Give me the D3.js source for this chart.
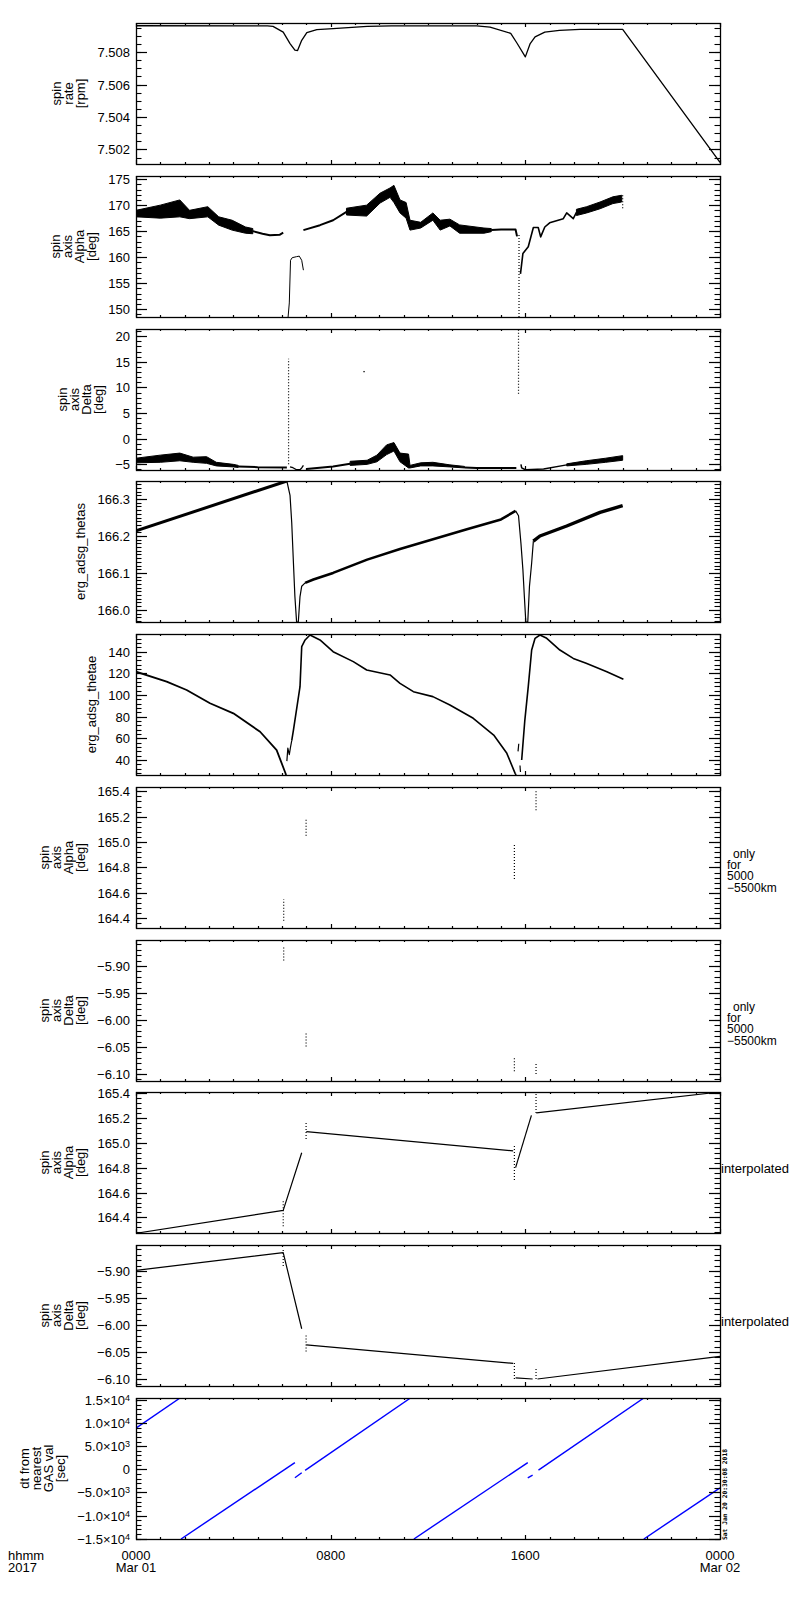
<!DOCTYPE html>
<html>
<head>
<meta charset="utf-8">
<script src="https://cdn.jsdelivr.net/npm/d3@7"></script>
<style>
body { margin: 0; background: #fff; }
text { font-family: "Liberation Sans", Arial, sans-serif; fill: #000; }
</style>
</head>
<body>
<div id="canvas"></div>
<script>
// time axis (hours of 2017-03-01)
var timeMajor = [0, 8, 16, 24];
var timeLabels = [["0000", "Mar 01"], ["0800"], ["1600"], ["0000", "Mar 02"]];

// spin rate [rpm]
var spinRate = [[0,7.50963],[5.4,7.50962],[5.63,7.50959],[6.05,7.50924],[6.33,7.50853],[6.53,7.50812],[6.64,7.5081],[6.81,7.50873],[7.02,7.5092],[7.43,7.50939],[8.1,7.50945],[9.5,7.50959],[10.5,7.50962],[14.0,7.50962],[14.55,7.50955],[15.4,7.50916],[15.66,7.50855],[16.0,7.50771],[16.2,7.50853],[16.4,7.50894],[16.8,7.50924],[17.4,7.50935],[18.25,7.50941],[20.0,7.50941],[24,7.5012]];

// spin axis alpha [deg]  (bands: hour, low, high)
var alphaBand1 = [[0,167.75,169.0],[1.0,167.5,170.0],[1.8,167.75,171.0],[2.2,167.4,169.0],[2.95,167.75,169.7],[3.4,166.15,167.75],[3.95,165.2,167.1],[4.5,164.6,165.8],[4.8,164.5,165.5]];
var alphaLine1 = [[4.8,165.0],[5.2,164.5],[5.5,164.2],[5.9,164.3],[6.05,164.7]];
var alphaBump = [[6.25,148.5],[6.3,151.2],[6.35,159.4],[6.42,159.9],[6.6,160.1],[6.71,160.2],[6.81,159.4],[6.88,157.5]];
var alphaLine2 = [[6.88,165.2],[7.56,166.15],[8.1,167.1],[8.65,168.7]];
var alphaBand2 = [[8.65,168.1,169.4],[9.48,167.9,170.0],[10.03,170.4,172.3],[10.44,171.5,173.3],[10.6,170.5,173.8],[10.85,168.5,171.0],[11.1,167.5,170.5],[11.26,165.2,167.1],[11.7,165.6,166.7],[12.2,167.1,168.5],[12.5,165.2,167.1],[12.9,166.0,167.3],[13.3,164.6,166.2],[14.3,164.6,165.6],[14.6,164.9,165.5]];
var alphaLine3 = [[14.6,165.2],[15.0,165.3],[15.6,165.3],[15.66,164.0]];
var alphaLine4 = [[15.8,156.8],[15.9,160.7],[16.12,162.0],[16.33,165.7],[16.53,165.7],[16.63,163.9],[16.8,165.8],[17.0,166.6],[17.56,167.4],[17.7,168.5],[17.97,167.4],[18.1,168.6]];
var alphaBand3 = [[18.1,168.0,169.2],[18.52,168.5,169.7],[19.07,169.3,170.6],[19.6,170.3,171.6],[19.96,170.6,171.9]];
var alphaDots = [[15.74,148.5,164.5],[20.0,169.4,171.9]];

// spin axis delta [deg]
var deltaBand1 = [[0,-4.7,-3.8],[1.0,-4.6,-3.2],[1.8,-4.3,-2.8],[2.35,-4.6,-3.6],[2.9,-4.8,-3.5],[3.3,-5.3,-4.6],[4.0,-5.5,-5.0],[4.2,-5.6,-5.2]];
var deltaLine1 = [[4.2,-5.4],[5.0,-5.55],[6.2,-5.6]];
var deltaLine2 = [[6.33,-5.5],[6.45,-5.66],[6.6,-6.05],[6.74,-6.05],[6.81,-5.7],[6.88,-5.2]];
var deltaLine3 = [[7.0,-5.9],[8.1,-5.4],[8.8,-4.9]];
var deltaBand2 = [[8.8,-5.2,-4.4],[9.5,-5.0,-4.2],[9.9,-4.5,-3.2],[10.3,-3.1,-1.2],[10.6,-2.4,-0.75],[10.85,-4.5,-2.8],[11.2,-5.7,-3.0],[11.26,-5.7,-5.2],[11.7,-5.3,-4.7],[12.2,-5.3,-4.6],[12.9,-5.5,-5.1],[13.5,-5.7,-5.4]];
var deltaLine4 = [[13.5,-5.6],[14.0,-5.7],[15.63,-5.7]];
var deltaLine5 = [[15.82,-5.0],[15.85,-5.7],[16.0,-6.05],[16.26,-6.0],[16.75,-5.9],[17.7,-5.1]];
var deltaBand3 = [[17.7,-5.3,-4.9],[18.5,-5.0,-4.3],[19.3,-4.6,-3.8],[20.0,-4.2,-3.3]];
var deltaDots = [[6.27,-5.0,15.6],[15.72,8.75,21.4]];
var deltaSingle = [[9.37,13.1]];

// erg_adsg_thetas
var thetas1 = [[0,166.214],[6.2,166.349]];
var thetasDip1 = [[6.2,166.349],[6.33,166.31],[6.4,166.236],[6.47,166.127],[6.53,166.036],[6.6,165.967],[6.67,165.967],[6.74,166.036],[6.81,166.064],[6.95,166.073]];
var thetas2 = [[6.95,166.073],[7.29,166.082],[8.1,166.1],[9.5,166.136],[10.85,166.165],[13.6,166.218],[15.0,166.245],[15.6,166.268]];
var thetasDip2 = [[15.6,166.268],[15.72,166.255],[15.82,166.18],[15.9,166.109],[15.96,166.036],[16.02,165.967],[16.1,165.967],[16.17,166.064],[16.26,166.127],[16.33,166.186]];
var thetas3 = [[16.33,166.186],[16.6,166.2],[17.7,166.227],[19.07,166.264],[20.0,166.282]];

// erg_adsg_thetae
var thetae1 = [[0,121.5],[1.26,112.3],[2.08,104.6],[3.04,92.4],[4.0,83.1],[5.1,66.1],[5.78,49.2],[6.12,29.2],[6.17,26.2]];
var thetaePiece1 = [[6.2,39],[6.24,51],[6.3,45],[6.35,52],[6.4,58]];
var thetae2 = [[6.4,58],[6.47,67.7],[6.74,107.7],[6.81,144.6],[6.95,150.8],[7.15,155.4],[7.56,150.8],[8.1,140],[8.93,130.8],[9.48,123.1],[10.44,118.5],[10.85,110.8],[11.4,103.1],[12.2,98.5],[12.9,90.8],[13.86,78.5],[14.7,63.1],[15.24,46.2],[15.58,27.7],[15.62,26.2]];
var thetaePiece2 = [[15.7,48],[15.73,55]];
var thetaePiece3 = [[15.78,35],[15.8,29]];
var thetae3 = [[15.85,40],[15.98,76.9],[16.12,107.7],[16.26,141.5],[16.4,152.3],[16.6,155.4],[16.88,152.3],[17.42,141.5],[17.97,133.8],[18.5,129.2],[19.35,121.5],[20.03,114.5]];

// only for 5000-5500km (hour, low, high)
var alphaOrbit = [[6.07,164.38,164.55],[6.99,165.05,165.18],[15.55,164.71,164.99],[16.44,165.25,165.40]];
var deltaOrbit = [[6.07,-5.89,-5.865],[6.99,-6.049,-6.025],[15.55,-6.095,-6.07],[16.44,-6.10,-6.08]];

// interpolated
var alphaInterp1 = [[0,164.273],[6.05,164.457],[6.81,164.92]];
var alphaInterp2 = [[7.0,165.09],[15.5,164.935]];
var alphaInterp3 = [[15.6,164.8],[16.25,165.22]];
var alphaInterp4 = [[16.45,165.24],[24,165.408]];
var alphaInterpDots = [[6.05,164.33,164.54],[6.99,165.03,165.17],[15.55,164.70,164.98],[16.44,165.24,165.40]];
var deltaInterp1 = [[0,-5.899],[6.05,-5.866],[6.81,-6.007]];
var deltaInterp2 = [[7.0,-6.037],[15.5,-6.071]];
var deltaInterp3 = [[15.6,-6.098],[16.3,-6.1]];
var deltaInterp4 = [[16.5,-6.1],[24,-6.058]];
var deltaInterpDots = [[6.05,-5.891,-5.86],[6.99,-6.049,-6.018],[15.55,-6.10,-6.07],[16.44,-6.10,-6.08]];

// dt from nearest GAS val [sec]
var dt1 = [[0,8920],[1.81,15440]];
var dt2 = [[1.85,-15070],[6.53,1460]];
var dt3 = [[6.53,-1830],[6.81,-730]];
var dt4 = [[6.95,-210],[11.28,15440]];
var dt5 = [[11.42,-15070],[16.1,1460]];
var dt6 = [[16.1,-1830],[16.3,-1250]];
var dt7 = [[16.54,-150],[20.87,15440]];
var dt8 = [[20.87,-15070],[24,-4000]];

var fmtMinus = function(s) { return s.replace("-", "\u2212"); };

var panels = [
	{domain:[7.5011,7.5098], major:[7.502,7.504,7.506,7.508], minor:0.0005, fmt:d3.format(".3f"),
	 title:["spin","rate","[rpm]"],
	 layers:[{type:"line", data:spinRate, w:1.3}]},
	{domain:[148.5,175.6], major:[150,155,160,165,170,175], minor:1, fmt:d3.format("d"),
	 title:["spin","axis","Alpha","[deg]"],
	 layers:[{type:"band", data:alphaBand1},{type:"line", data:alphaLine1, w:2},{type:"line", data:alphaBump, w:1},
	 {type:"line", data:alphaLine2, w:2},{type:"band", data:alphaBand2},{type:"line", data:alphaLine3, w:2},
	 {type:"line", data:alphaLine4, w:1.6},{type:"band", data:alphaBand3},{type:"dots", data:alphaDots}]},
	{domain:[-6.1,21.4], major:[-5,0,5,10,15,20], minor:1, fmt:d3.format("d"),
	 title:["spin","axis","Delta","[deg]"],
	 layers:[{type:"band", data:deltaBand1},{type:"line", data:deltaLine1, w:2},{type:"line", data:deltaLine2, w:1.3},
	 {type:"line", data:deltaLine3, w:2},{type:"band", data:deltaBand2},{type:"line", data:deltaLine4, w:2},
	 {type:"line", data:deltaLine5, w:1.5},{type:"band", data:deltaBand3},{type:"dots", data:deltaDots},
	 {type:"points", data:deltaSingle}]},
	{domain:[165.967,166.349], major:[166.0,166.1,166.2,166.3], minor:0.01, fmt:d3.format(".1f"),
	 title:["erg_adsg_thetas"],
	 layers:[{type:"line", data:thetas1, w:3},{type:"line", data:thetasDip1, w:1.2},{type:"line", data:thetas2, w:2.6},
	 {type:"line", data:thetasDip2, w:1.2},{type:"line", data:thetas3, w:3.4}]},
	{domain:[26.2,156.3], major:[40,60,80,100,120,140], minor:4, fmt:d3.format("d"),
	 title:["erg_adsg_thetae"],
	 layers:[{type:"line", data:thetae1, w:1.8},{type:"line", data:thetaePiece1, w:1.2},{type:"line", data:thetae2, w:1.6},
	 {type:"line", data:thetaePiece2, w:1.2},{type:"line", data:thetaePiece3, w:1.2},{type:"line", data:thetae3, w:1.6}]},
	{domain:[164.323,165.434], major:[164.4,164.6,164.8,165.0,165.2,165.4], minor:0.04, fmt:d3.format(".1f"),
	 title:["spin","axis","Alpha","[deg]"], note:"orbit",
	 layers:[{type:"dots", data:alphaOrbit}]},
	{domain:[-6.113,-5.852], major:[-6.10,-6.05,-6.00,-5.95,-5.90], minor:0.01, fmt:d3.format(".2f"),
	 title:["spin","axis","Delta","[deg]"], note:"orbit",
	 layers:[{type:"dots", data:deltaOrbit}]},
	{domain:[164.275,165.408], major:[164.4,164.6,164.8,165.0,165.2,165.4], minor:0.04, fmt:d3.format(".1f"),
	 title:["spin","axis","Alpha","[deg]"], note:"interp",
	 layers:[{type:"line", data:alphaInterp1, w:1.2},{type:"line", data:alphaInterp2, w:1.2},{type:"line", data:alphaInterp3, w:1.2},
	 {type:"line", data:alphaInterp4, w:1.2},{type:"dots", data:alphaInterpDots}]},
	{domain:[-6.113,-5.852], major:[-6.10,-6.05,-6.00,-5.95,-5.90], minor:0.01, fmt:d3.format(".2f"),
	 title:["spin","axis","Delta","[deg]"], note:"interp",
	 layers:[{type:"line", data:deltaInterp1, w:1.2},{type:"line", data:deltaInterp2, w:1.2},{type:"line", data:deltaInterp3, w:1.2},
	 {type:"line", data:deltaInterp4, w:1.2},{type:"dots", data:deltaInterpDots}]},
	{domain:[-15070,15440], major:[-15000,-10000,-5000,0,5000,10000,15000], minor:1000, fmt:"sci",
	 title:["dt from","nearest","GAS val","[sec]"],
	 layers:[dt1,dt2,dt3,dt4,dt5,dt6,dt7,dt8].map(function(d){ return {type:"line", data:d, w:1.4, color:"#0000ff"}; })}
];

var left = 136, right = 720, top0 = 23, pitch = 152.75, ph = 141;

var svg = d3.select("#canvas").append("svg")
	.attr("width", 800)
	.attr("height", 1600);
svg.append("rect").attr("width", 800).attr("height", 1600).attr("fill", "#fff");

var x = d3.scaleLinear().domain([0, 24]).range([left, right]);
var hourTicks = d3.range(0, 25);

panels.forEach(function(p, i) {
	var y0 = Math.round(top0 + i * pitch);
	var y1 = y0 + ph;
	var y = d3.scaleLinear().domain(p.domain).range([y1, y0]);
	var g = svg.append("g");

	g.append("clipPath").attr("id", "clip" + i)
		.append("rect").attr("x", left).attr("y", y0).attr("width", right - left).attr("height", ph);
	var plot = g.append("g").attr("clip-path", "url(#clip" + i + ")");

	var line = d3.line().x(function(d){ return x(d[0]); }).y(function(d){ return y(d[1]); });
	var area = d3.area().x(function(d){ return x(d[0]); })
		.y0(function(d){ return y(d[1]); }).y1(function(d){ return y(d[2]); });

	p.layers.forEach(function(l) {
		if (l.type === "line") {
			plot.append("path").datum(l.data).attr("d", line)
				.attr("fill", "none").attr("stroke", l.color || "#000")
				.attr("stroke-width", l.w).attr("stroke-linejoin", "round");
		} else if (l.type === "band") {
			plot.append("path").datum(l.data).attr("d", area)
				.attr("fill", "#000").attr("stroke", "#000").attr("stroke-width", 1);
		} else if (l.type === "dots") {
			plot.selectAll(null).data(l.data).enter().append("line")
				.attr("x1", function(d){ return x(d[0]); }).attr("x2", function(d){ return x(d[0]); })
				.attr("y1", function(d){ return y(d[1]); }).attr("y2", function(d){ return y(d[2]); })
				.attr("stroke", "#000").attr("stroke-width", 1.2).attr("stroke-dasharray", "1,2");
		} else if (l.type === "points") {
			plot.selectAll(null).data(l.data).enter().append("rect")
				.attr("x", function(d){ return x(d[0]) - 0.6; }).attr("y", function(d){ return y(d[1]) - 0.6; })
				.attr("width", 1.3).attr("height", 1.3).attr("fill", "#000");
		}
	});

	// frame
	g.append("rect").attr("x", left + 0.5).attr("y", y0 + 0.5)
		.attr("width", right - left).attr("height", ph)
		.attr("fill", "none").attr("stroke", "#000").attr("stroke-width", 1.3);

	// time ticks, top and bottom
	hourTicks.forEach(function(h) {
		var len = timeMajor.indexOf(h) >= 0 ? 4 : 2;
		var xx = Math.round(x(h)) + 0.5;
		g.append("line").attr("x1", xx).attr("x2", xx).attr("y1", y1).attr("y2", y1 - len)
			.attr("stroke", "#000").attr("stroke-width", 1.2);
		g.append("line").attr("x1", xx).attr("x2", xx).attr("y1", y0).attr("y2", y0 + len)
			.attr("stroke", "#000").attr("stroke-width", 1.2);
	});

	// value ticks, left and right
	var d0 = p.domain[0], d1 = p.domain[1];
	var minors = d3.range(Math.ceil(d0 / p.minor - 1e-6), Math.floor(d1 / p.minor + 1e-6) + 1)
		.map(function(k){ return k * p.minor; });
	minors.forEach(function(v) {
		var yy = Math.round(y(v)) + 0.5;
		g.append("line").attr("x1", left).attr("x2", left + 5.5).attr("y1", yy).attr("y2", yy)
			.attr("stroke", "#000").attr("stroke-width", 1.1);
		g.append("line").attr("x1", right).attr("x2", right - 5.5).attr("y1", yy).attr("y2", yy)
			.attr("stroke", "#000").attr("stroke-width", 1.1);
	});
	var labels = g.append("g");
	p.major.forEach(function(v) {
		var yy = Math.round(y(v)) + 0.5;
		g.append("line").attr("x1", left).attr("x2", left + 11).attr("y1", yy).attr("y2", yy)
			.attr("stroke", "#000").attr("stroke-width", 1.2);
		g.append("line").attr("x1", right).attr("x2", right - 11).attr("y1", yy).attr("y2", yy)
			.attr("stroke", "#000").attr("stroke-width", 1.2);
		var t = labels.append("text").attr("x", left - 6).attr("y", yy).attr("dy", "0.36em")
			.attr("text-anchor", "end").attr("font-size", 13);
		if (p.fmt === "sci") {
			if (v === 0) {
				t.text("0");
			} else {
				var e = Math.abs(v) >= 10000 ? 4 : 3;
				var m = v / Math.pow(10, e);
				t.append("tspan").text(fmtMinus(m.toFixed(1)) + "\u00d710");
				t.append("tspan").attr("dy", "-0.45em").attr("font-size", 9).text(e);
			}
		} else {
			t.text(fmtMinus(p.fmt(v)));
		}
	});

	// axis title, rotated, right edge just left of the tick labels
	var minX = labels.node().getBBox().x;
	var lastBase = minX - 12;
	var cy = (y0 + y1) / 2;
	var n = p.title.length;
	p.title.forEach(function(s, k) {
		var bx = lastBase - (n - 1 - k) * 12;
		g.append("text").attr("transform", "translate(" + bx + "," + cy + ") rotate(-90)")
			.attr("text-anchor", "middle").attr("font-size", 13).text(s);
	});

	if (p.note === "orbit") {
		[" only", "for", "5000", "\u22125500km"].forEach(function(s, k) {
			g.append("text").attr("x", right + 7 + (k === 0 ? 6 : 0)).attr("y", cy + k * 11.4)
				.attr("font-size", 12).text(s.trim());
		});
	} else if (p.note === "interp") {
		g.append("text").attr("x", right + 1).attr("y", cy + 10)
			.attr("font-size", 13).text("interpolated");
	}

	if (i === panels.length - 1) {
		timeMajor.forEach(function(h, k) {
			timeLabels[k].forEach(function(s, j) {
				g.append("text").attr("x", x(h)).attr("y", y1 + 21 + j * 12)
					.attr("text-anchor", "middle").attr("font-size", 13).text(s);
			});
		});
		g.append("text").attr("x", 8).attr("y", y1 + 21).attr("font-size", 13).text("hhmm");
		g.append("text").attr("x", 8).attr("y", y1 + 33).attr("font-size", 13).text("2017");
		g.append("text").attr("transform", "translate(" + (right + 7) + "," + (y1 + 1) + ") rotate(-90)")
			.attr("font-family", "DejaVu Sans Mono").style("font-family", "DejaVu Sans Mono")
			.attr("font-size", 6.3).attr("font-weight", "bold").text("Sat Jan 20 20:30:08 2018");
	}
});
</script>
</body>
</html>
